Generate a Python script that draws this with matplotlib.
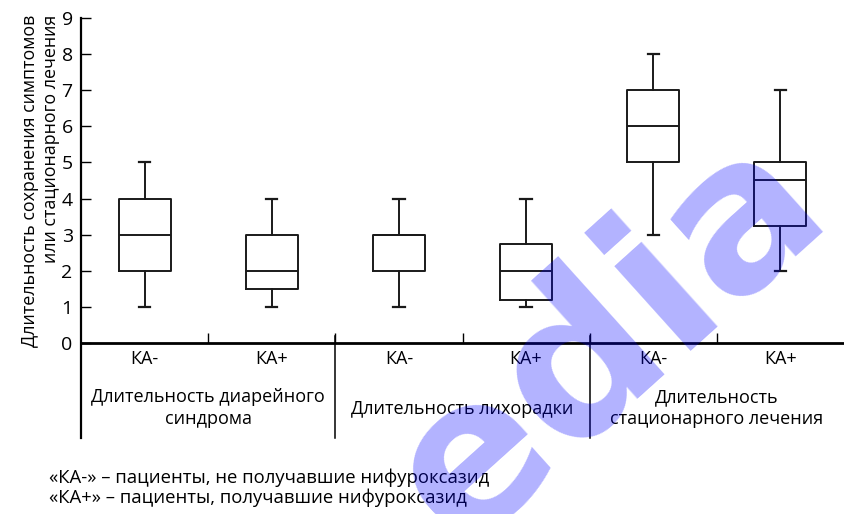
import matplotlib
matplotlib.use('Agg')
import matplotlib.pyplot as plt

# данные: длительность (дни), 6 групп
groups = ['Длительность диарейного\nсиндрома', 'Длительность лихорадки',
          'Длительность\nстационарного лечения']
labels = ['КА-', 'КА+', 'КА-', 'КА+', 'КА-', 'КА+']
whislo = [1, 1, 1, 1, 3, 2]
q1 = [2, 1.5, 2, 1.2, 5, 3.25]
med = [3, 2, 3, 2, 6, 4.5]
q3 = [4, 3, 3, 2.75, 7, 5]
whishi = [5, 4, 4, 4, 8, 7]

plt.rcParams['font.family'] = ['Open Sans', 'DejaVu Sans']

fig = plt.figure(figsize=(8.44, 5.14), dpi=100)
ax = fig.add_axes([0.096, 0.3327, 0.904, 0.6323])

stats = []
for i in range(len(labels)):
    stats.append({'whislo': whislo[i], 'q1': q1[i], 'med': med[i],
                  'q3': q3[i], 'whishi': whishi[i], 'label': labels[i]})

lc = '#1a1a1a'
ax.bxp(stats, positions=range(1, len(labels) + 1), widths=0.41,
       showfliers=False, capwidths=0.09,
       boxprops=dict(color=lc, linewidth=1.4),
       medianprops=dict(color=lc, linewidth=1.4),
       whiskerprops=dict(color=lc, linewidth=1.4),
       capprops=dict(color=lc, linewidth=1.6))

ax.set_xlim(0.5, 6.5)
ax.set_ylim(0, 9)
ax.set_yticks(range(0, 10))
ax.tick_params(axis='y', direction='in', length=7, width=1, labelsize=14,
               pad=6, colors='black')
ax.set_xticks([1.5, 2.5, 3.5, 4.5, 5.5])
ax.set_xticklabels([])
ax.tick_params(axis='x', direction='in', length=7, width=1)

for s in ['top', 'right', 'left']:
    ax.spines[s].set_visible(False)
ax.spines['bottom'].set_linewidth(2)

# ось Y и разделители групп, продолжающиеся вниз
ax.axvline(0.5, ymin=-0.292, ymax=1, color='black', linewidth=1.6, clip_on=False)
for xs in [2.5, 4.5]:
    ax.axvline(xs, ymin=-0.292, ymax=0.02, color='black', linewidth=1.1, clip_on=False)

# подписи групп КА-/КА+
for i, lab in enumerate(labels):
    ax.text(i + 1, -0.45, lab, ha='center', va='center', fontsize=13)

ax.text(1.5, -1.8, groups[0], ha='center', va='center', fontsize=13,
        linespacing=1.25)
ax.text(3.5, -1.83, groups[1], ha='center', va='center', fontsize=13)
ax.text(5.5, -1.8, groups[2], ha='center', va='center', fontsize=13,
        linespacing=1.25)

fig.text(0.048, 0.972, 'Длительность сохранения симптомов\nили стационарного лечения',
         rotation=90, ha='center', va='top', multialignment='right', fontsize=12.9,
         linespacing=1.25)

fig.text(0.058, 0.0516, '«КА-» – пациенты, не получавшие нифуроксазид\n'
         '«КА+» – пациенты, получавшие нифуроксазид',
         ha='left', va='center', fontsize=13.3, linespacing=1.08)

# водяной знак
fig.text(0.72, 0.34, 'edia', rotation=42, color='blue', alpha=0.3,
         fontsize=150, fontweight='bold', family='DejaVu Sans',
         ha='center', va='center', zorder=10)

fig.savefig('out.png', dpi=100)
